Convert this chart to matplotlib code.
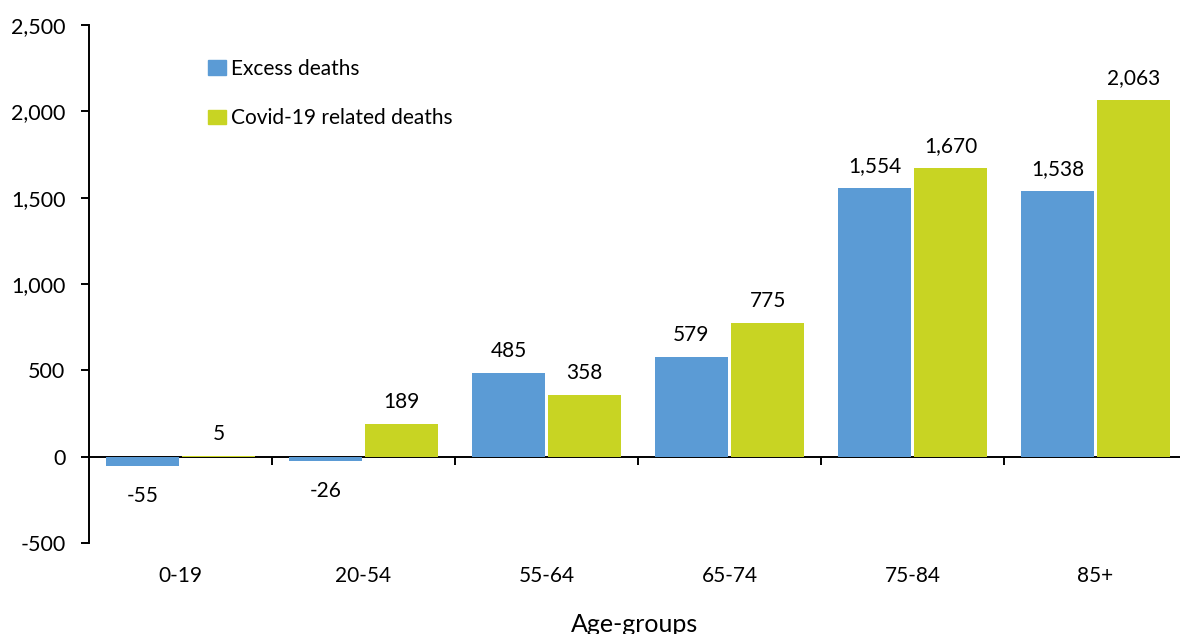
import matplotlib.pyplot as plt
import numpy as np
from matplotlib.patches import Patch

plt.rcParams['font.family'] = ['Lato', 'DejaVu Sans']
plt.rcParams['font.size'] = 15

age_groups = ['0-19', '20-54', '55-64', '65-74', '75-84', '85+']
excess_deaths = [-55, -26, 485, 579, 1554, 1538]
covid_deaths = [5, 189, 358, 775, 1670, 2063]
series_labels = ['Excess deaths', 'Covid-19 related deaths']
colors = ['#5B9BD5', '#C8D423']

fig = plt.figure(figsize=(11.8, 6.34), dpi=100)
ax = fig.add_axes([89 / 1180, 1 - 543 / 634, 1098 / 1180, 518 / 634])

x = np.arange(len(age_groups))
w = 0.395
offset = 0.208
bars1 = ax.bar(x - offset, excess_deaths, w, color=colors[0], zorder=3)
bars2 = ax.bar(x + offset, covid_deaths, w, color=colors[1], zorder=3)

# value labels above/below each bar
for bars, vals in [(bars1, excess_deaths), (bars2, covid_deaths)]:
    for b, v in zip(bars, vals):
        cx = b.get_x() + b.get_width() / 2
        dy = 11.5 if v >= 0 else -26
        ax.annotate(f'{v:,}', (cx, v), xytext=(0, dy), textcoords='offset points',
                    ha='center', va='baseline', fontsize=15)

ax.set_xlim(-0.5, 5.5)
ax.set_ylim(-500, 2500)
ax.set_yticks(range(-500, 2501, 500))
ax.yaxis.set_major_formatter(plt.FuncFormatter(lambda v, p: f'{int(v):,}'))

for s in ['top', 'right']:
    ax.spines[s].set_visible(False)
ax.spines['bottom'].set_position(('data', 0))
ax.spines['left'].set_linewidth(1.4)
ax.spines['bottom'].set_linewidth(1.4)

# group separators as ticks on the zero line
ax.set_xticks(np.arange(0.5, 5.5, 1.0))
ax.set_xticklabels([])
ax.tick_params(axis='x', direction='out', length=6, width=1.4)
ax.tick_params(axis='y', direction='out', length=6, width=1.4, pad=11, labelsize=15.5)

for i, g in enumerate(age_groups):
    ax.text(i, -0.075, g, transform=ax.get_xaxis_transform(),
            ha='center', va='baseline', fontsize=15)

fig.text(635 / 1180, 1 - 632 / 634, 'Age-groups', ha='center', va='baseline', fontsize=18)

handles = [Patch(color=c) for c in colors]
ax.legend(handles, series_labels, loc='upper left', bbox_to_anchor=(208 / 1180, 1 - 59 / 634),
          bbox_transform=fig.transFigure, frameon=False, fontsize=15,
          handlelength=0.85, handleheight=0.7, handletextpad=0.25,
          labelspacing=1.4, borderpad=0, borderaxespad=0)

fig.savefig('out.png', dpi=100)
